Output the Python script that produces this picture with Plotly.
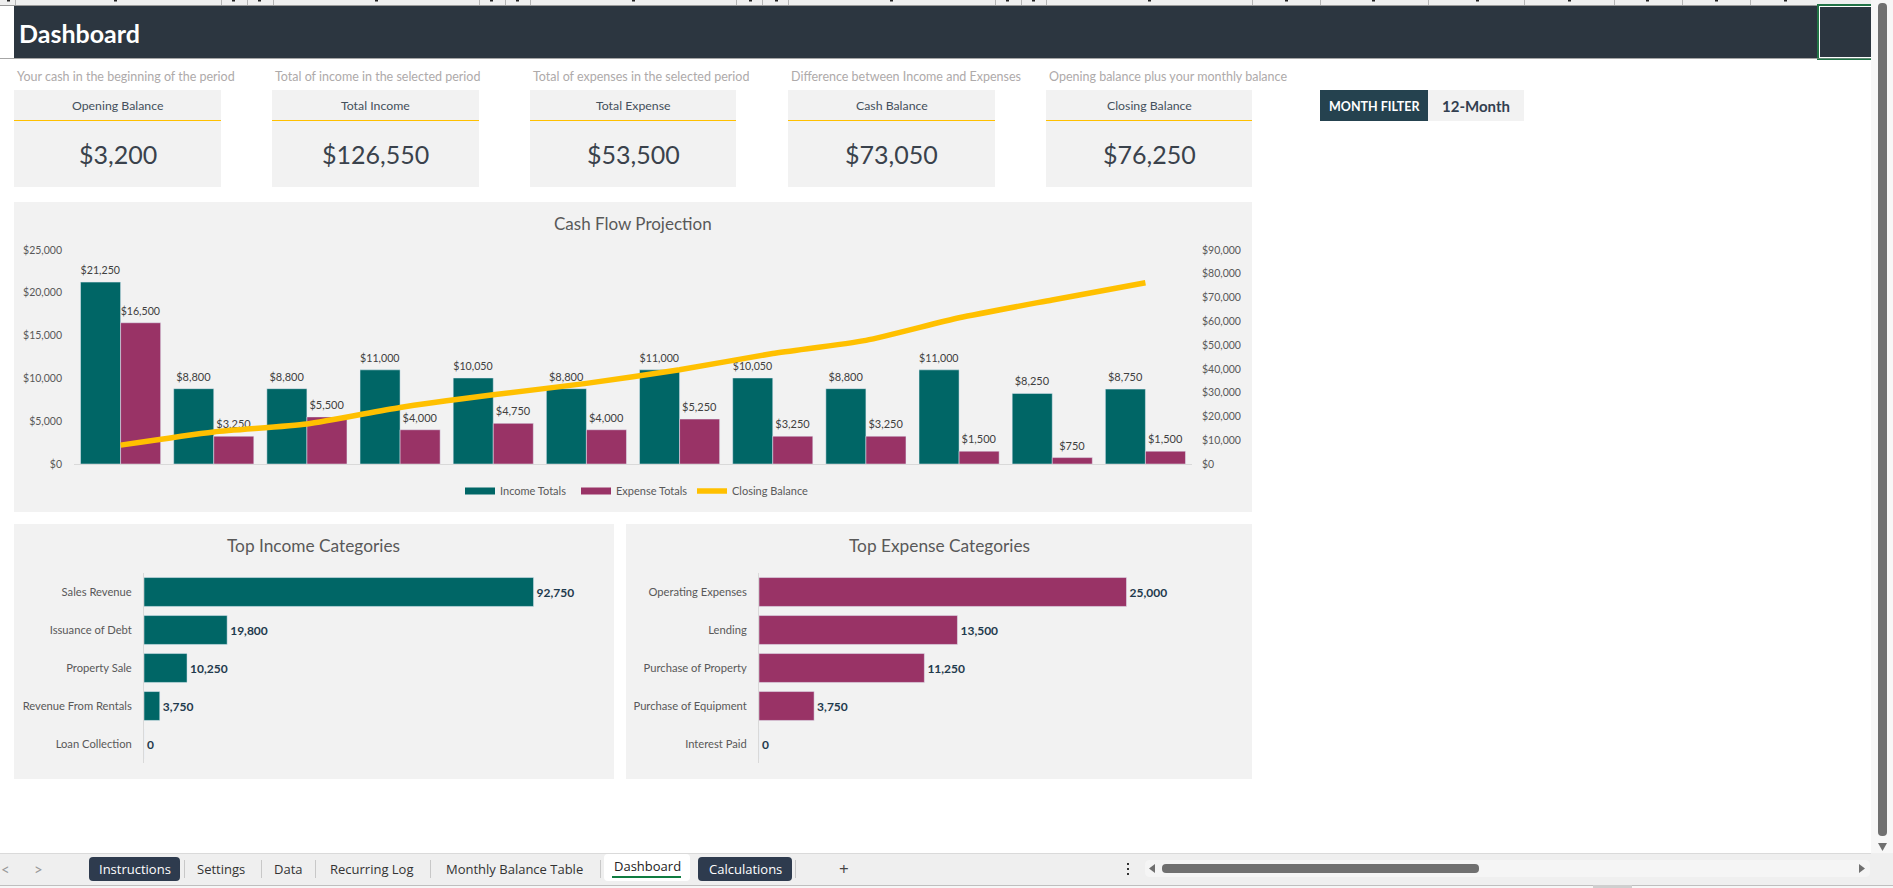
import plotly.graph_objects as go

W, H = 1893, 888
FONT = "Lato"
TABFONT = "Open Sans"

# ---- data ----
months = ["M1", "M2", "M3", "M4", "M5", "M6", "M7", "M8", "M9", "M10", "M11", "M12"]
income_totals = [21250, 8800, 8800, 11000, 10050, 8800, 11000, 10050, 8800, 11000, 8250, 8750]
expense_totals = [16500, 3250, 5500, 4000, 4750, 4000, 5250, 3250, 3250, 1500, 750, 1500]
closing_balance = [7950, 13500, 16800, 23800, 29100, 33900, 39650, 46450, 52000, 61500, 69000, 76250]

income_categories = ["Sales Revenue", "Issuance of Debt", "Property Sale", "Revenue From Rentals", "Loan Collection"]
income_values = [92750, 19800, 10250, 3750, 0]
expense_categories = ["Operating Expenses", "Lending", "Purchase of Property", "Purchase of Equipment", "Interest Paid"]
expense_values = [25000, 13500, 11250, 3750, 0]

kpi_hints = ["Your cash in the beginning of the period", "Total of income in the selected period",
             "Total of expenses in the selected period", "Difference between Income and Expenses",
             "Opening balance plus your monthly balance"]
kpi_titles = ["Opening Balance", "Total Income", "Total Expense", "Cash Balance", "Closing Balance"]
kpi_values = ["$3,200", "$126,550", "$53,500", "$73,050", "$76,250"]

tabs_plain = ["Settings", "Data", "Recurring Log", "Monthly Balance Table"]

# ---- colours ----
TEAL = "#006666"
PLUM = "#993366"
GOLD = "#FFC000"
PANEL = "#F2F2F2"
BANNER = "#2C3640"
STRIP = "#EFEFEF"
GREEN = "#217346"
CLEAR = "rgba(0,0,0,0)"


def px(x):
    return x / W


def py(y):
    return 1 - y / H


shapes, annos = [], []


def rect(x0, y0, x1, y1, fill, layer="below"):
    shapes.append(dict(type="rect", xref="paper", yref="paper", x0=px(x0), x1=px(x1), y0=py(y1), y1=py(y0),
                       fillcolor=fill, line=dict(width=0), layer=layer))


def rrect(x0, y0, x1, y1, r, fill):
    a, b, c, d = px(x0), px(x1), py(y0), py(y1)
    rx, ry = r / W, r / H
    path = (f"M{a + rx},{c} L{b - rx},{c} Q{b},{c} {b},{c - ry} L{b},{d + ry} Q{b},{d} {b - rx},{d} "
            f"L{a + rx},{d} Q{a},{d} {a},{d + ry} L{a},{c - ry} Q{a},{c} {a + rx},{c} Z")
    shapes.append(dict(type="path", xref="paper", yref="paper", path=path, fillcolor=fill,
                       line=dict(width=0), layer="below"))


def tri(points, fill):
    path = "M" + " L".join(f"{px(x)},{py(y)}" for x, y in points) + " Z"
    shapes.append(dict(type="path", xref="paper", yref="paper", path=path, fillcolor=fill,
                       line=dict(width=0), layer="below"))


def text(x, y, s, size, color, anchor="center", bold=False, family=FONT):
    annos.append(dict(xref="paper", yref="paper", x=px(x), y=py(y), text=f"<b>{s}</b>" if bold else s,
                      showarrow=False, xanchor=anchor, yanchor="middle",
                      font=dict(family=family, size=size, color=color), borderpad=0, borderwidth=0))


# ---- spreadsheet chrome: column header strip ----
rect(0, 0, 1871, 5, STRIP)
rect(0, 5, 1871, 6, "#9A9A9A")
for cx in [15, 221, 247, 273, 479, 505, 530, 736, 762, 788, 995, 1021, 1046, 1252, 1320, 1428, 1524, 1614, 1682, 1750]:
    rect(cx, 0, cx + 1, 5, "#B5B5B5")
for cx in [8, 115, 233, 259, 376, 491, 517, 633, 750, 776, 891, 1007, 1033, 1149, 1286, 1373, 1477, 1569, 1647, 1716, 1785]:
    rect(cx - 1, 0, cx + 2, 1.5, "#222222")

# banner
rect(14, 6, 1871, 58, BANNER)
rect(0, 58, 1817, 59, "#A6A6A6")
text(19, 33, "Dashboard", 25, "#FFFFFF", "left", True)

# selected cell
rect(1817, 4, 1871, 60, GREEN)
rect(1819, 6, 1871, 58, "#FFFFFF")
rect(1820, 7, 1871, 57, BANNER)
rect(1817, 58, 1871, 58.5, "#A6A6A6")

# vertical scrollbar
rect(1871, 0, 1893, 853, "#F7F7F7")
rrect(1878, 3, 1887, 836, 4, "#707070")
tri([(1878, 843), (1887, 843), (1882.5, 851)], "#707070")

# KPI cards
card_lefts = [14, 272, 530, 788, 1046]
card_rights = [221, 479, 736, 995, 1252]
for i, (l, r) in enumerate(zip(card_lefts, card_rights)):
    c = (l + r) / 2
    text(l + 3, 76, kpi_hints[i], 12.5, "#AEAAAA", "left")
    rect(l, 90, r, 187, PANEL)
    rect(l, 120, r, 121, "#FFC000")
    text(c, 105.5, kpi_titles[i], 12.3, "#44505C")
    text(c, 154, kpi_values[i], 25, "#3A424C")

# month filter
rect(1320, 90, 1428, 121, "#25424F")
rect(1428, 90, 1524, 121, PANEL)
text(1375, 106, "MONTH FILTER", 12.5, "#FFFFFF", bold=True)
text(1476, 106, "12-Month", 15, "#333F50", bold=True)

# chart panels
rect(14, 202, 1252, 512, PANEL)
rect(14, 524, 614, 779, PANEL)
rect(626, 524, 1252, 779, PANEL)
text(633, 224, "Cash Flow Projection", 17, "#595959")
text(313, 545, "Top Income Categories", 17.3, "#595959")
text(939, 545, "Top Expense Categories", 17.3, "#595959")

# bottom tab bar
rect(0, 853, 1893, 885, STRIP)
rect(0, 853, 1871, 854, "#DADADA")
rect(0, 885, 1893, 886, "#BFBFBF")
rect(0, 886, 1893, 888, "#F7F7F7")
rect(1593, 885, 1632, 888, "#CFCFCF")
text(5, 869, "&#60;", 15, "#9A9A9A")
text(38, 869, "&#62;", 15, "#9A9A9A")
rrect(89, 857, 180, 881, 4, "#2E3B4E")
text(134.5, 869, "Instructions", 13, "#FFFFFF", family=TABFONT)
for cx, s in zip([221, 288, 372, 514], tabs_plain):
    text(cx, 869, s, 13, "#333333", family=TABFONT)
for dx in [184, 261, 315, 430, 600, 795]:
    rect(dx, 860, dx + 1, 878, "#C8C8C8")
rrect(604, 854, 690, 881, 4, "#FFFFFF")
text(647, 866, "Dashboard", 13, "#222222", family=TABFONT)
rect(612, 876, 681, 878, "#107C41")
rrect(698, 857, 792, 881, 4, "#2E3B4E")
text(745, 869, "Calculations", 13, "#FFFFFF", family=TABFONT)
text(844, 868, "+", 17, "#444444", family=TABFONT)
for dy in [864, 869, 874]:
    rect(1127, dy - 1, 1129, dy + 1, "#333333")
rrect(1145, 860, 1870, 877, 5, "#F5F5F5")
rrect(1162, 864, 1479, 873, 4, "#707070")
tri([(1155, 864), (1155, 873), (1149, 868.5)], "#707070")
tri([(1859, 864), (1859, 873), (1865, 868.5)], "#707070")

fig = go.Figure()

label_font = dict(family=FONT, size=11, color="#404040")
LABEL_LIFT = 350  # hidden bars carrying the labels start here, so labels sit a little higher above the real bars
bar_series = [("Income Totals", income_totals, TEAL, "a"), ("Expense Totals", expense_totals, PLUM, "b")]
for nm, vals, col, grp in bar_series:
    fig.add_trace(go.Bar(x=months, y=vals, base=LABEL_LIFT, marker=dict(color=col, opacity=0),
                         name=nm + " labels", showlegend=False,
                         text=[f"${v:,}" for v in vals], textposition="outside", textfont=label_font,
                         cliponaxis=False, offsetgroup=grp, hoverinfo="skip", xaxis="x", yaxis="y"))
for nm, vals, col, grp in bar_series:
    fig.add_trace(go.Bar(x=months, y=vals, marker_color=col, name=nm, showlegend=False,
                         offsetgroup=grp, xaxis="x", yaxis="y"))
fig.add_trace(go.Scatter(x=months, y=closing_balance, mode="lines", name="Closing Balance", showlegend=False,
                         line=dict(color=GOLD, width=5.5, shape="spline", smoothing=0.6),
                         xaxis="x", yaxis="y2"))
# legend entries drawn as wide swatches, like the spreadsheet's legend keys
for nm, col, wd in [("Income Totals", TEAL, 7), ("Expense Totals", PLUM, 7), ("Closing Balance", GOLD, 5.5)]:
    fig.add_trace(go.Scatter(x=[None], y=[None], mode="lines", name=nm, line=dict(color=col, width=wd),
                             xaxis="x", yaxis="y2"))

bold_font = dict(family=FONT, size=12, color="#1F3A4D", weight="bold")
fig.add_trace(go.Bar(y=income_categories, x=income_values, orientation="h", marker_color=TEAL, showlegend=False,
                     text=[f"{v:,}" for v in income_values], textposition="outside",
                     textfont=bold_font, cliponaxis=False, width=0.76,
                     xaxis="x2", yaxis="y3"))
fig.add_trace(go.Bar(y=expense_categories, x=expense_values, orientation="h", marker_color=PLUM, showlegend=False,
                     text=[f"{v:,}" for v in expense_values], textposition="outside",
                     textfont=bold_font, cliponaxis=False, width=0.76,
                     xaxis="x3", yaxis="y4"))

tick = dict(family=FONT, size=10.5, color="#595959")
cat_tick = dict(family=FONT, size=11.2, color="#595959")
axis_line = "#D9D9D9"
fig.update_layout(
    width=W, height=H, margin=dict(l=0, r=0, t=0, b=0, autoexpand=False), autosize=False,
    paper_bgcolor="#FFFFFF", plot_bgcolor=CLEAR,
    barmode="group", bargap=0.14, bargroupgap=0,
    shapes=shapes, annotations=annos,
    legend=dict(orientation="h", x=px(460), y=py(491), xanchor="left", yanchor="middle",
                font=dict(family=FONT, size=11, color="#595959"), bgcolor=CLEAR,
                itemwidth=30, traceorder="normal", entrywidth=71, entrywidthmode="pixels"),
    xaxis=dict(domain=[px(74), px(1192)], showticklabels=False, showgrid=False, zeroline=False,
               showline=True, linecolor=axis_line, ticks="", anchor="y", fixedrange=True),
    yaxis=dict(domain=[py(464), py(250)], range=[0, 25000], tickvals=[0, 5000, 10000, 15000, 20000, 25000],
               tickformat="$,d", tickfont=tick, showgrid=False, zeroline=False, ticklabelstandoff=11,
               anchor="x", fixedrange=True),
    yaxis2=dict(domain=[py(464), py(250)], range=[0, 90000], overlaying="y", side="right", anchor="x",
                tickvals=list(range(0, 90001, 10000)), tickformat="$,d", tickfont=tick, showgrid=False,
                zeroline=False, ticklabelstandoff=9, fixedrange=True),
    xaxis2=dict(domain=[px(144), px(564)], range=[0, 100000], visible=False, anchor="y3", fixedrange=True),
    yaxis3=dict(domain=[py(763), py(573)], autorange="reversed", tickfont=cat_tick, showline=True, linecolor=axis_line,
                showgrid=False, zeroline=False, ticks="", ticklabelstandoff=9, anchor="x2", fixedrange=True),
    xaxis3=dict(domain=[px(759), px(1200)], range=[0, 30000], visible=False, anchor="y4", fixedrange=True),
    yaxis4=dict(domain=[py(763), py(573)], autorange="reversed", tickfont=cat_tick, showline=True, linecolor=axis_line,
                showgrid=False, zeroline=False, ticks="", ticklabelstandoff=9, anchor="x3", fixedrange=True),
)

fig.write_html("out.html", config=dict(displayModeBar=False),
               post_script="document.body.style.margin='0';document.body.style.overflow='hidden';")
